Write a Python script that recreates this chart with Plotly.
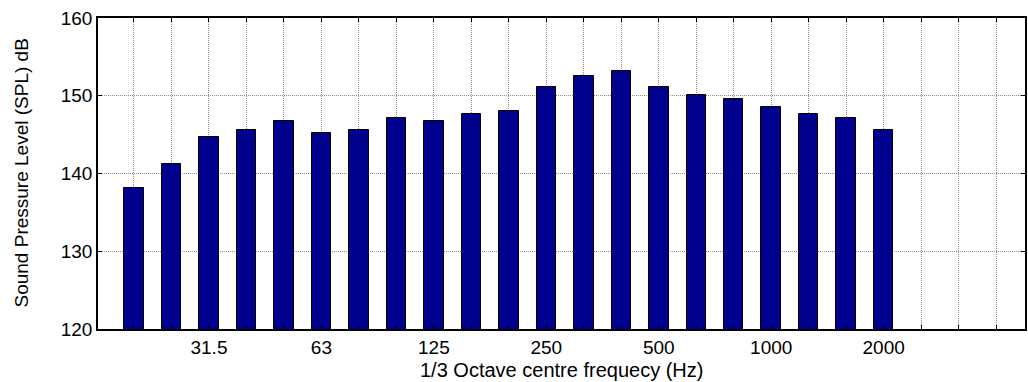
import plotly.graph_objects as go

# Data
band_index = list(range(1, 22))
spl_db = [138.1, 141.2, 144.7, 145.6, 146.7, 145.2, 145.6, 147.2, 146.7, 147.7,
          148.1, 151.1, 152.6, 153.2, 151.1, 150.1, 149.6, 148.6, 147.7, 147.1, 145.6]
tick_positions = list(range(1, 25))
tick_labels = ["", "", "31.5", "", "", "63", "", "", "125", "", "", "250", "", "",
               "500", "", "", "1000", "", "", "2000", "", "", ""]
y_ticks = [120, 130, 140, 150, 160]

FONT = "Liberation Sans, Arial, sans-serif"

fig = go.Figure()
fig.add_trace(go.Bar(
    x=band_index, y=spl_db, width=0.52,
    marker=dict(color="#00008F", line=dict(color="black", width=1)),
    hoverinfo="skip",
))

fig.update_layout(
    width=1028, height=382,
    margin=dict(l=98, r=3, t=18, b=53),
    plot_bgcolor="white", paper_bgcolor="white",
    showlegend=False,
    font=dict(family=FONT, size=18, color="black"),
    bargap=0,
    annotations=[
        dict(text="1/3 Octave centre frequecy (Hz)", xref="paper", yref="paper",
             x=0.5, y=0, yshift=-53, xanchor="center", yanchor="bottom",
             showarrow=False, font=dict(family=FONT, size=20), borderpad=0),
        dict(text="Sound Pressure Level (SPL) dB", xref="paper", yref="paper",
             x=0, y=0.5, xshift=-77, xanchor="center", yanchor="middle", textangle=-90,
             showarrow=False, font=dict(family=FONT, size=19)),
    ],
)
fig.update_xaxes(
    range=[0.04, 24.77], automargin=False,
    tickmode="array", tickvals=tick_positions, ticktext=tick_labels,
    ticks="inside", ticklen=4, tickcolor="black",
    showline=True, linecolor="black", linewidth=1.5, mirror="ticks",
    showgrid=True, gridcolor="#8a8a8a", griddash="1px,1px", gridwidth=1,
    zeroline=False,
    tickfont=dict(family=FONT, size=19),
)
fig.update_yaxes(
    range=[120, 160], automargin=False,
    tickmode="array", tickvals=y_ticks,
    ticks="inside", ticklen=4, tickcolor="black",
    showline=True, linecolor="black", linewidth=1.5, mirror="ticks",
    showgrid=True, gridcolor="#8a8a8a", griddash="1px,1px", gridwidth=1,
    zeroline=False,
    tickfont=dict(family=FONT, size=19),
)

fig.write_html("out.html", config={"displayModeBar": False},
               post_script="document.body.style.margin='0';")
